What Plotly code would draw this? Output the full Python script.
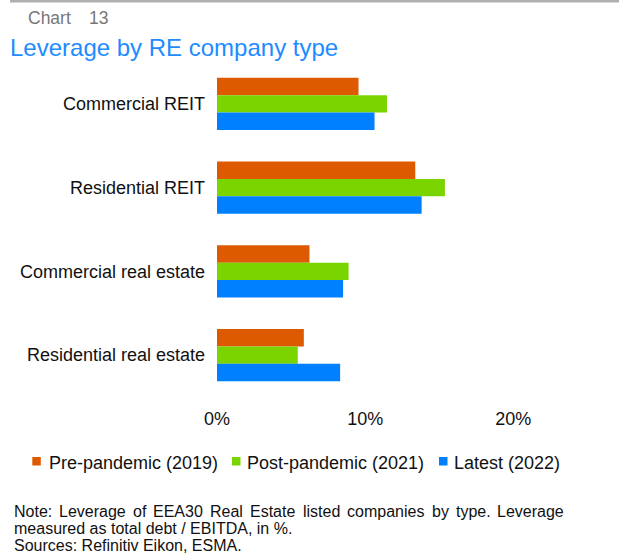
import plotly.graph_objects as go

categories = ["Commercial REIT", "Residential REIT", "Commercial real estate", "Residential real estate"]
series_names = ["Pre-pandemic (2019)", "Post-pandemic (2021)", "Latest (2022)"]
pre_pandemic_2019 = [9.55, 13.38, 6.24, 5.86]
post_pandemic_2021 = [11.47, 15.38, 8.88, 5.45]
latest_2022 = [10.63, 13.81, 8.51, 8.31]
tick_values = [0, 10, 20]
tick_labels = ["0%", "10%", "20%"]

colors = ["#dd5a00", "#7ad400", "#0080ff"]

W_FIG, H_FIG = 619, 557
L, R, T, B = 217, 76, 62, 160
PW, PH = W_FIG - L - R, H_FIG - T - B
FONT = "Liberation Sans, Arial, sans-serif"
TXT = "#111111"
NOTE_SIZE = 16


def px(x):
    return (x - L) / PW


def py(y):
    return 1 - (y - T) / PH


fig = go.Figure()
for name, vals, col in zip(series_names, [pre_pandemic_2019, post_pandemic_2021, latest_2022], colors):
    fig.add_trace(go.Bar(
        y=categories, x=vals, name=name, orientation="h",
        marker=dict(color=col, line=dict(width=0)),
        hovertemplate="%{y}: %{x:.1f}%<extra>" + name + "</extra>",
    ))

fig.update_layout(
    width=W_FIG, height=H_FIG,
    margin=dict(l=L, r=R, t=T, b=B, pad=0, autoexpand=False),
    paper_bgcolor="white", plot_bgcolor="white",
    font=dict(family=FONT, size=18, color=TXT),
    barmode="group", bargap=0.377, bargroupgap=0,
    showlegend=False,
    xaxis=dict(
        range=[0, 22], tickvals=tick_values, ticktext=tick_labels,
        showgrid=False, zeroline=False, showline=False, ticks="",
        ticklabelstandoff=9, tickfont=dict(size=18, color=TXT),
        fixedrange=True,
    ),
    yaxis=dict(
        autorange="reversed", showgrid=False, zeroline=False, showline=False,
        ticks="", ticklabelstandoff=11, tickfont=dict(size=18, color=TXT),
        fixedrange=True,
    ),
    title=dict(
        text="Leverage by RE company type", xref="container", yref="container",
        x=10 / W_FIG, xanchor="left", y=1 - 48 / H_FIG, yanchor="middle",
        font=dict(family=FONT, size=24, color="#1e8cff"),
    ),
)


def add_text(text, x, y, size, color=TXT):
    fig.add_annotation(text=text, xref="paper", yref="paper", x=px(x), y=py(y),
                       xanchor="left", yanchor="middle", showarrow=False,
                       align="left", font=dict(family=FONT, size=size, color=color))


# header
add_text("Chart", 26, 18, 17.5, "#777777")
add_text("13", 87, 18, 17.5, "#777777")
fig.add_shape(type="rect", xref="paper", yref="paper",
              x0=px(10), x1=px(619), y0=py(0), y1=py(2.5),
              line=dict(width=0), fillcolor="#b0b0b0", layer="above")

# legend (row below the axis)
legend_swatch_x = [32.3, 232, 439]
legend_text_x = [46.7, 245, 451.7]
for name, col, sx, tx in zip(series_names, colors, legend_swatch_x, legend_text_x):
    fig.add_shape(type="rect", xref="paper", yref="paper",
                  x0=px(sx), x1=px(sx + 8.5), y0=py(457), y1=py(465.5),
                  line=dict(width=0), fillcolor=col, layer="above")
    add_text(name, tx, 463, 18)

# note: first line justified between x=12 and x=562 (Arial metrics)
ARIAL = {"N": 722, "o": 556, "t": 278, "e": 556, ":": 278, "L": 556, "v": 500,
         "r": 333, "a": 556, "g": 556, "f": 278, "E": 667, "A": 667, "3": 556,
         "0": 556, "R": 722, "l": 222, "s": 500, "i": 222, "d": 556, "c": 500,
         "m": 833, "p": 556, "n": 556, "b": 556, "y": 500, ".": 278}
note_line1 = "Note: Leverage of EEA30 Real Estate listed companies by type. Leverage"
words = note_line1.split(" ")
widths = [sum(ARIAL.get(ch, 556) for ch in w) / 1000 * NOTE_SIZE for w in words]
gap = (562 - 12 - sum(widths)) / (len(words) - 1)
x = 12
for w, wd in zip(words, widths):
    add_text(w, x, 511, NOTE_SIZE)
    x += wd + gap
add_text("measured as total debt / EBITDA, in %.", 12, 528, NOTE_SIZE)
add_text("Sources: Refinitiv Eikon, ESMA.", 12, 545, NOTE_SIZE)

fig.write_html("out.html", config={"displayModeBar": False},
               post_script="document.body.style.margin='0';")
